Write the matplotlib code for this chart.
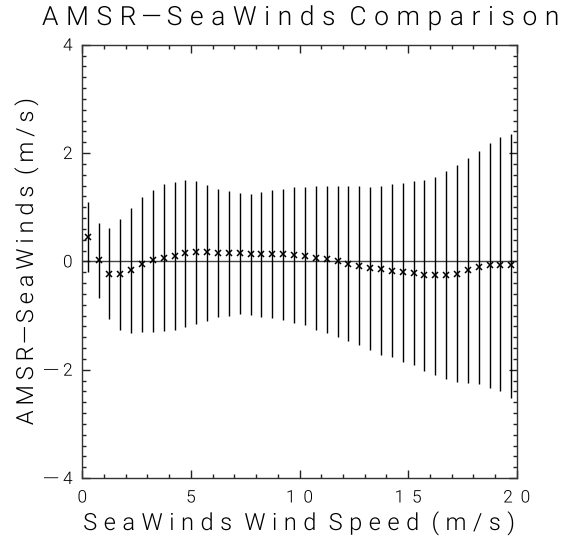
import numpy as np
import matplotlib
matplotlib.use("Agg")
import matplotlib.pyplot as plt
from matplotlib import font_manager
from matplotlib.patheffects import AbstractPathEffect
from matplotlib.path import Path
from matplotlib.ticker import MultipleLocator

# bin centres of SeaWinds wind speed (m/s)
speed = [0.25, 0.75, 1.25, 1.75, 2.25, 2.75, 3.25, 3.75, 4.25, 4.75,
         5.25, 5.75, 6.25, 6.75, 7.25, 7.75, 8.25, 8.75, 9.25, 9.75,
         10.25, 10.75, 11.25, 11.75, 12.25, 12.75, 13.25, 13.75, 14.25, 14.75,
         15.25, 15.75, 16.25, 16.75, 17.25, 17.75, 18.25, 18.75, 19.25, 19.75]

# mean AMSR - SeaWinds difference (m/s)
mean_diff = [0.45, 0.02, -0.23, -0.23, -0.16, -0.05, 0.02, 0.07, 0.10, 0.15,
             0.17, 0.17, 0.16, 0.15, 0.15, 0.13, 0.13, 0.13, 0.13, 0.12,
             0.09, 0.07, 0.04, 0.01, -0.04, -0.08, -0.12, -0.15, -0.17, -0.20,
             -0.22, -0.25, -0.26, -0.25, -0.23, -0.16, -0.10, -0.07, -0.06, -0.07]

# top and bottom of the error bars
bar_top = [1.09, 0.70, 0.61, 0.79, 0.98, 1.19, 1.32, 1.42, 1.47, 1.50,
           1.48, 1.41, 1.34, 1.29, 1.26, 1.25, 1.28, 1.31, 1.34, 1.37,
           1.38, 1.39, 1.39, 1.39, 1.39, 1.39, 1.38, 1.40, 1.42, 1.44,
           1.48, 1.50, 1.55, 1.66, 1.77, 1.91, 2.03, 2.19, 2.30, 2.36]
bar_bottom = [-0.20, -0.68, -1.07, -1.26, -1.32, -1.31, -1.31, -1.28, -1.26, -1.22,
              -1.16, -1.10, -1.03, -1.00, -0.98, -0.99, -1.02, -1.05, -1.09, -1.13,
              -1.18, -1.26, -1.32, -1.40, -1.47, -1.55, -1.63, -1.72, -1.77, -1.85,
              -1.92, -2.02, -2.09, -2.18, -2.23, -2.25, -2.26, -2.33, -2.40, -2.53]

x_ticks = [0, 5, 10, 15, 20]
x_ticklabels = ["0", "5", "10", "15", "20"]
y_ticks = [-4, -2, 0, 2, 4]
y_ticklabels = ["\u22124", "\u22122", "0", "2", "4"]


class LetterSpacing(AbstractPathEffect):
    """Spread the glyphs of a text apart, like the old wide spaced plot font.

    spacing is in em; if width_px is given the spacing is chosen so the
    ink of the whole text is that many pixels long.  Flat glyphs (the
    minus sign) are drawn longer, as in the original font.
    """

    def __init__(self, spacing=0.3, align=0.5, width_px=None, dash=1.8):
        super().__init__()
        self.spacing = spacing * 100.0   # text paths use 100 units per em
        self.align = align
        self.width_px = width_px
        self.dash = dash

    def draw_path(self, renderer, gc, tpath, affine, rgbFace=None):
        verts = np.array(tpath.vertices, dtype=float)
        codes = tpath.codes
        if codes is None or len(verts) == 0:
            renderer.draw_path(gc, tpath, affine, rgbFace)
            return
        starts = list(np.where(codes == Path.MOVETO)[0])
        ends = starts[1:] + [len(codes)]
        parts = []
        for s, e in zip(starts, ends):
            keep = codes[s:e] != Path.CLOSEPOLY
            xs = verts[s:e, 0][keep]
            parts.append((xs.min(), xs.max(), s, e))
        parts.sort()
        x_min = min(p[0] for p in parts)
        x_max = max(p[1] for p in parts)
        # contours that overlap in x belong to the same glyph
        groups = []
        right = -np.inf
        for x0, x1, s, e in parts:
            if x0 >= right - 0.5:
                groups.append([])
            groups[-1].append((s, e))
            right = max(right, x1)
        n = len(groups)
        step = self.spacing
        if self.width_px is not None and n > 1:
            m = affine.get_matrix()
            scale = np.hypot(m[0, 0], m[1, 0])
            step = (self.width_px / scale - (x_max - x_min)) / (n - 1)
        for k, grp in enumerate(groups):
            idx = np.concatenate([np.arange(s, e) for s, e in grp])
            gx = verts[idx, 0]
            gy = verts[idx, 1]
            real = codes[idx] != Path.CLOSEPOLY
            h = np.ptp(gy[real])
            w = np.ptp(gx[real])
            if h < 12 and w > 2 * h:
                cx = 0.5 * (gx[real].min() + gx[real].max())
                verts[idx, 0] = cx + (gx - cx) * self.dash
            verts[idx, 0] += k * step
        verts[:, 0] -= self.align * (n - 1) * step
        renderer.draw_path(gc, Path(verts, codes), affine, rgbFace)


def pick_font():
    # thin strokes like the original plot font
    for name in ["Roboto", "Lato", "Open Sans", "Noto Sans", "Inter"]:
        for f in font_manager.fontManager.ttflist:
            if f.name == name and f.weight in (200, 300, "light", "extra-light"):
                return name, 300
    return "DejaVu Sans", "normal"


def main():
    fam, wt = pick_font()
    plt.rcParams["font.family"] = [fam, "DejaVu Sans"]
    plt.rcParams["font.weight"] = wt

    W, H = 567, 538
    fig = plt.figure(figsize=(W / 100, H / 100), dpi=100)
    ax = fig.add_axes([82.3 / W, 1 - 478 / H, 434.4 / W, 433.3 / H])

    x = np.array(speed)
    y = np.array(mean_diff)
    lo = y - np.array(bar_bottom)
    hi = np.array(bar_top) - y

    ax.axhline(0, color="#444444", lw=1.0, zorder=1)
    ax.errorbar(x, y, yerr=[lo, hi], fmt="none", ecolor="black",
                elinewidth=1.0, capsize=0, zorder=2)
    ax.plot(x, y, "x", color="black", ms=4.5, mew=1.1, zorder=3)

    ax.set_xlim(0, 20)
    ax.set_ylim(-4, 4)
    ax.set_xticks(x_ticks)
    ax.set_yticks(y_ticks)
    xl = ax.set_xticklabels(x_ticklabels, fontsize=12.5)
    yl = ax.set_yticklabels(y_ticklabels, fontsize=12.5)
    for t in xl:
        t.set_path_effects([LetterSpacing(0.45, 0.5)])
    for t in yl:
        t.set_path_effects([LetterSpacing(0.40, 1.0, dash=2.0)])
    ax.xaxis.set_minor_locator(MultipleLocator(1))
    ax.yaxis.set_minor_locator(MultipleLocator(0.2))
    ax.tick_params(which="both", direction="in", top=True, right=True,
                   color="#222222", width=1.0)
    ax.tick_params(which="major", length=6.1)
    ax.tick_params(axis="x", which="major", pad=9)
    ax.tick_params(axis="y", which="major", pad=7)
    ax.tick_params(which="minor", length=3.2)
    for s in ax.spines.values():
        s.set_color("#333333")
        s.set_linewidth(1.0)

    title = fig.text(300.5 / W, 1 - 25 / H, "AMSR\u2212SeaWinds Comparison",
                     ha="center", va="baseline", fontsize=19)
    title.set_path_effects([LetterSpacing(width_px=515, dash=1.6)])
    xlab = fig.text(298.5 / W, 1 - 530 / H, "SeaWinds Wind Speed (m/s)",
                    ha="center", va="baseline", fontsize=17)
    xlab.set_path_effects([LetterSpacing(width_px=429)])
    ylab = fig.text(33 / W, 1 - 262 / H, "AMSR\u2212SeaWinds (m/s)",
                    ha="center", va="baseline", rotation=90,
                    rotation_mode="anchor", fontsize=17)
    ylab.set_path_effects([LetterSpacing(width_px=325, dash=1.6)])

    fig.savefig("out.png", dpi=100, facecolor="white")


if __name__ == "__main__":
    main()
